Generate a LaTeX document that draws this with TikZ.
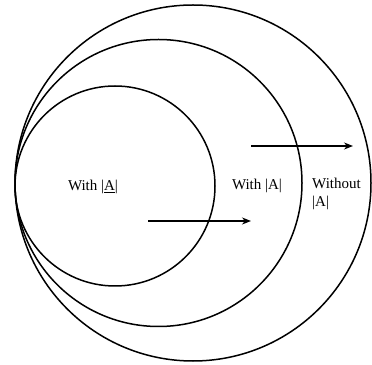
\documentclass[tikz,border=0pt]{standalone}
\usepackage{fontspec}
\setmainfont{Liberation Serif}
\usetikzlibrary{arrows.meta}
\begin{document}
\begin{tikzpicture}[x=1pt,y=1pt,
  ring/.style={draw, circle, line width=1.5pt, inner sep=0pt},
  flow/.style={line width=1.5pt, -{Stealth[length=9pt,width=7pt]}},
  lbl/.style={font=\fontsize{15}{18}\selectfont, inner sep=0pt}]
\useasboundingbox (0,0) rectangle (372,364);
\node[ring, minimum size=356pt] (outer) at (193,181) {};
\node[ring, minimum size=287pt] (middle) at (158.5,181) {};
\node[ring, minimum size=200pt] (inner) at (115,178) {};
\node[lbl] (l1) at (93,177) {With |\underline{A}|};
\node[lbl] (l2) at (257,178) {With |A|};
\node[lbl, align=left, anchor=west] (l3) at (312,170) {Without\\|A|};
\coordinate (a1s) at (148,143);
\coordinate (a1e) at (251,143);
\coordinate (a2s) at (251,218);
\coordinate (a2e) at (353,218);
\draw[flow] (a1s) -- (a1e);
\draw[flow] (a2s) -- (a2e);
\end{tikzpicture}
\end{document}
